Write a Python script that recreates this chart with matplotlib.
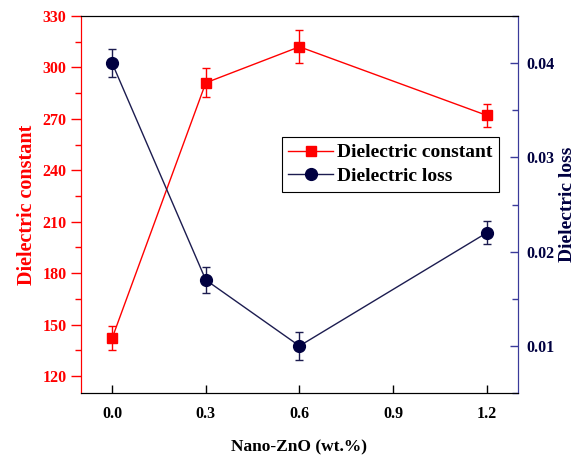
import matplotlib
matplotlib.use("Agg")
import matplotlib.pyplot as plt
from matplotlib.ticker import MultipleLocator
from matplotlib.lines import Line2D

x = [0.0, 0.3, 0.6, 1.2]
dc = [142, 291, 312, 272]
dc_err = [7, 8.5, 9.5, 6.5]
loss = [0.040, 0.017, 0.010, 0.022]
loss_err = [0.0015, 0.0014, 0.00145, 0.0012]

plt.rcParams['font.family'] = ['Liberation Serif', 'DejaVu Serif']
plt.rcParams['font.weight'] = 'bold'

RED = '#ff0000'
NAVY = '#000040'
NAVY_LINE = '#1c1c50'
NAVY_AX = '#3a3a9a'

fig = plt.figure(figsize=(5.82, 4.55), dpi=100)
ax = fig.add_axes([0.139, 0.136, 0.751, 0.829])
ax2 = ax.twinx()

ax.errorbar(x, dc, yerr=dc_err, color=RED, marker='s', ms=7, lw=1,
            capsize=3, elinewidth=1, capthick=1)
ax2.errorbar(x, loss, yerr=loss_err, color=NAVY_LINE, mfc=NAVY, mec=NAVY,
             marker='o', ms=8.5, lw=1, capsize=3, elinewidth=1, capthick=1,
             ecolor=NAVY_LINE)

ax.set_xlim(-0.1, 1.3)
ax.set_ylim(110, 330)
ax2.set_ylim(0.005, 0.045)

ax.set_xticks([0.0, 0.3, 0.6, 0.9, 1.2])
ax.set_xticklabels(['0.0', '0.3', '0.6', '0.9', '1.2'])
ax.set_yticks([120, 150, 180, 210, 240, 270, 300, 330])
ax.yaxis.set_minor_locator(MultipleLocator(15))
ax2.set_yticks([0.01, 0.02, 0.03, 0.04])
ax2.yaxis.set_minor_locator(MultipleLocator(0.005))

ax.tick_params(axis='x', direction='in', length=6, width=1, labelsize=11.5, pad=9, top=False)
ax.tick_params(axis='y', which='major', direction='out', length=7, width=1,
               colors=RED, labelsize=11.5)
ax.tick_params(axis='y', which='minor', direction='out', length=4, width=1, colors=RED)
ax2.tick_params(axis='y', which='major', direction='in', length=6, width=1,
                colors=NAVY_AX, labelcolor=NAVY, labelsize=11.5, pad=6)
ax2.tick_params(axis='y', which='minor', direction='in', length=4, width=1, colors=NAVY_AX)

for a in (ax, ax2):
    a.spines['left'].set_color(RED)
    a.spines['right'].set_color(NAVY_AX)
    a.spines['top'].set_color('black')
    a.spines['bottom'].set_color('black')

ax.set_xlabel('Nano-ZnO (wt.%)', fontsize=12.5, fontweight='bold', labelpad=13)
ax.set_ylabel('Dielectric constant', fontsize=14.5, fontweight='bold', color=RED, labelpad=4)
ax2.set_ylabel('Dielectric loss', fontsize=14, fontweight='bold', color=NAVY, labelpad=3)

h1 = Line2D([], [], color=RED, marker='s', ms=7, lw=1)
h2 = Line2D([], [], color=NAVY_LINE, mfc=NAVY, mec=NAVY, marker='o', ms=8.5, lw=1)
leg = ax2.legend([h1, h2], ['Dielectric constant', 'Dielectric loss'],
                 loc='upper right', bbox_to_anchor=(0.957, 0.679), borderaxespad=0,
                 fancybox=False, edgecolor='black', framealpha=1,
                 prop={'family': 'Liberation Serif', 'weight': 'bold', 'size': 14},
                 handlelength=2.3, handletextpad=0.2, borderpad=0.35, labelspacing=0.3)
leg.get_frame().set_linewidth(0.8)

fig.savefig('out.png', dpi=100)
